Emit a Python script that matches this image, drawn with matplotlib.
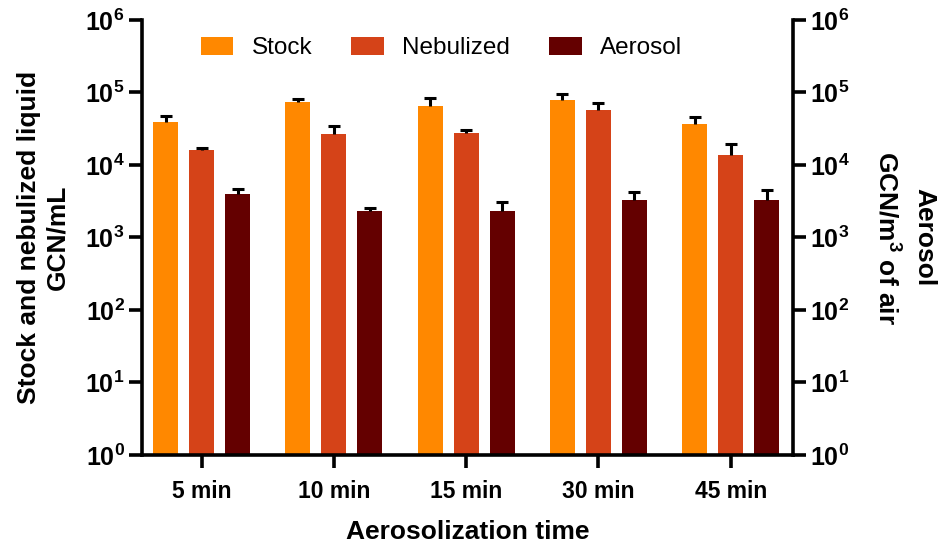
import numpy as np
import matplotlib
matplotlib.use("Agg")
import matplotlib.pyplot as plt
from matplotlib.ticker import FixedLocator, FuncFormatter, NullLocator

plt.rcParams['font.family'] = ['Liberation Sans', 'DejaVu Sans']
plt.rcParams['mathtext.fontset'] = 'custom'
plt.rcParams['mathtext.rm'] = 'Liberation Sans:bold'
plt.rcParams['mathtext.bf'] = 'Liberation Sans:bold'
plt.rcParams['mathtext.default'] = 'bf'

# data (GCN)
times = ['5 min', '10 min', '15 min', '30 min', '45 min']
stock = [39200, 74000, 65100, 78800, 36800]
stock_err = [8200, 7300, 18800, 17400, 9600]
nebulized = [16100, 26800, 27600, 57400, 13700]
nebulized_err = [1000, 7700, 2800, 14900, 6000]
aerosol = [3980, 2320, 2320, 3290, 3290]
aerosol_err = [690, 230, 770, 990, 1280]

colors = ['#FF8800', '#D54318', '#640000']
series = [('Stock', stock, stock_err),
          ('Nebulized', nebulized, nebulized_err),
          ('Aerosol', aerosol, aerosol_err)]

fig = plt.figure(figsize=(9.39, 5.46), dpi=100)
ax = fig.add_axes([0.1512, 0.1667, 0.6933, 0.7967])

x = np.arange(len(times))
width = 0.189
offsets = [-0.272, 0.0, 0.272]
for (name, vals, errs), off, c in zip(series, offsets, colors):
    ax.bar(x + off, vals, width, color=c, label=name, zorder=2)
    eb = ax.errorbar(x + off, vals, yerr=[np.zeros(len(errs)), errs], fmt='none',
                     ecolor='black', elinewidth=2.2, capsize=4.5, capthick=2.2,
                     zorder=3)
    # upper error only: hide the cap sitting on the bar top
    for cl in eb.lines[1]:
        if np.allclose(cl.get_ydata(), vals):
            cl.set_visible(False)

ax.set_yscale('log')
ax.set_ylim(1, 1e6)
ax.set_xlim(-0.45, 4.47)

fmt = FuncFormatter(lambda v, p: r'$\mathbf{10^{%d}}$' % int(round(np.log10(v))))
decades = [10.0 ** k for k in range(7)]

ax2 = ax.twinx()
ax2.set_yscale('log')
ax2.set_ylim(1, 1e6)

for a in (ax, ax2):
    a.yaxis.set_major_locator(FixedLocator(decades))
    a.yaxis.set_minor_locator(NullLocator())
    a.yaxis.set_major_formatter(fmt)
    a.spines['top'].set_visible(False)
    for s in a.spines.values():
        s.set_linewidth(2.6)
    a.tick_params(axis='y', which='major', length=9.5, width=2.6, labelsize=18, pad=3)

ax.spines['right'].set_visible(False)
ax2.spines['left'].set_visible(False)
ax2.spines['bottom'].set_visible(False)

ax.set_xticks(x)
ax.set_xticklabels(times, fontsize=16.5, fontweight='bold')
ax.tick_params(axis='x', length=9, width=2.6, pad=9)

ax.set_xlabel('Aerosolization time', fontsize=19, fontweight='bold', labelpad=12)
ax.set_ylabel('Stock and nebulized liquid\nGCN/mL', fontsize=19,
              fontweight='bold', labelpad=11, linespacing=1.25)
ax2.set_ylabel('Aerosol\nGCN/m$^{3}$ of air', fontsize=19, fontweight='bold',
               rotation=-90, labelpad=62, linespacing=1.55)

ax.legend(loc='center', bbox_to_anchor=(0.46, 0.935), ncol=3, frameon=False,
          fontsize=17.5, handlelength=1.35, handleheight=0.75,
          handletextpad=0.75, columnspacing=1.6)

fig.savefig('out.png', dpi=100)
